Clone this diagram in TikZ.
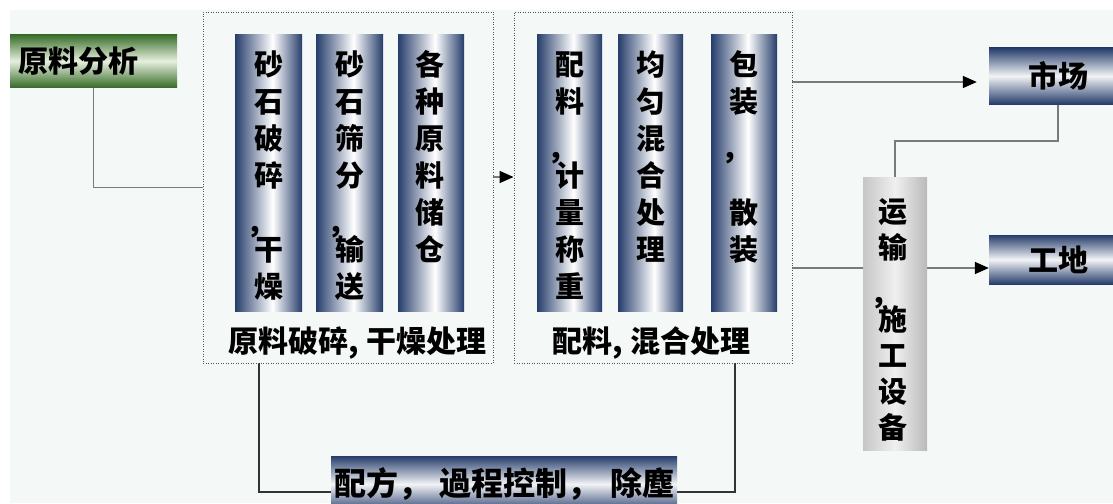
\documentclass[tikz,border=0pt]{standalone}
\usepackage{fontspec}
\newfontfamily\cjk{Noto Sans CJK SC}
\usetikzlibrary{arrows.meta,calc}
\definecolor{navy}{HTML}{263D6B}
\definecolor{dgreen}{HTML}{3B6E2C}
\definecolor{lgreen}{HTML}{E6F0DE}
\definecolor{bgc}{HTML}{F4F8F6}
\definecolor{linec}{HTML}{7A7A7A}
\definecolor{dlinec}{HTML}{333333}
\definecolor{dotc}{HTML}{555555}
\pgfdeclarehorizontalshading{colshade}{100bp}{color(0bp)=(navy); color(25bp)=(navy); color(53bp)=(white); color(75bp)=(navy); color(100bp)=(navy)}
\pgfdeclarelayer{bglayer}
\pgfdeclarelayer{linelayer}
\pgfsetlayers{bglayer,linelayer,main}
\newcommand\vcol[5]{%
  \foreach \ch [count=\i from 0] in {#5} {\node[chr] (#1-\i) at (#2,{#3+\i*#4}) {\ch};}}
\newcommand\vcm{\makebox[29pt][l]{\hspace{-8pt}\raisebox{-10pt}{，}}}
\begin{document}
\begin{tikzpicture}[x=1pt,y=-1pt,
  chr/.style={font=\cjk\bfseries\fontsize{29}{29}\selectfont, inner sep=0pt, text height=23pt, text depth=3pt},
  colbox/.style={shading=colshade, draw=none, inner sep=0pt},
  grp/.style={draw=dotc, line width=0.9pt, dash pattern=on 1pt off 1.5pt, inner sep=0pt},
  lbl/.style={font=\cjk\bfseries\fontsize{30}{30}\selectfont, inner sep=0pt},
  hbox/.style={top color=navy, bottom color=navy, middle color=navy!6, inner sep=0pt,
    font=\cjk\bfseries\fontsize{30}{30}\selectfont},
  gbox/.style={top color=dgreen, bottom color=dgreen, middle color=lgreen, inner ysep=0pt,
    font=\cjk\bfseries\fontsize{30}{30}\selectfont},
  graybox/.style={left color=gray!45, right color=gray!55, middle color=gray!12, inner sep=0pt},
  conn/.style={draw=linec, line width=1.6pt},
  dconn/.style={draw=dlinec, line width=1.6pt},
  arr/.style={conn, -{Triangle[length=14pt,width=12pt,color=black]}}
]
\useasboundingbox (0,0) rectangle (1113,503);
\clip (0,0) rectangle (1113,503);
\begin{pgfonlayer}{bglayer}
  \fill[white] (0,0) rectangle (1113,503);
  \fill[bgc] (10,10) rectangle (1113,503);
\end{pgfonlayer}

% left input
\node[gbox, minimum width=167pt, minimum height=52pt, text width=151pt, align=left, inner xsep=8pt] (raw) at (93.5,61) {原料分析};

% groups
\node[grp, minimum width=290pt, minimum height=351pt] (g1) at (348,187.5) {};
\node[grp, minimum width=278pt, minimum height=351pt] (g2) at (653,187.5) {};

% columns of group 1
\node[colbox, minimum width=67pt, minimum height=276pt] (c11) at (268.5,173) {};
\node[colbox, minimum width=67pt, minimum height=276pt] (c12) at (349.5,173) {};
\node[colbox, minimum width=66pt, minimum height=276pt] (c13) at (431,173) {};
% columns of group 2
\node[colbox, minimum width=65pt, minimum height=276pt] (c21) at (569.5,173) {};
\node[colbox, minimum width=65pt, minimum height=276pt] (c22) at (650.5,173) {};
\node[colbox, minimum width=66pt, minimum height=276pt] (c23) at (744,173) {};

\vcol{t11}{268.5}{65}{37}{砂,石,破,碎,\vcm,干,燥}
\vcol{t12}{349.5}{65}{37}{砂,石,筛,分,\vcm,输,送}
\vcol{t13}{430}{65}{37}{各,种,原,料,储,仓}
\vcol{t21}{569.5}{65}{37}{配,料,\vcm,计,量,称,重}
\vcol{t22}{650.5}{65}{37}{均,匀,混,合,处,理}
\vcol{t23}{744}{65}{37}{包,装,\vcm,{},散,装}

\node[lbl] (l1) at (357.5,343) {原料破碎, 干燥处理};
\node[lbl] (l2) at (651.5,343) {配料, 混合处理};

% right side
\node[hbox, minimum width=138pt, minimum height=56pt] (mkt) at (1058,76) {市场};
\node[hbox, minimum width=138pt, minimum height=49pt] (site) at (1058,259.5) {工地};
\node[graybox, minimum width=64pt, minimum height=273pt] (trans) at (895,313.5) {};
\vcol{tt}{893}{212}{36}{运,输,\vcm,施,工,设,备}

% bottom control box
\node[hbox, minimum width=346pt, minimum height=56pt, font=\cjk\bfseries\fontsize{32}{32}\selectfont] (ctrl) at (504,484) {配方，\hspace{10pt}過程控制，\hspace{10pt}除塵};

% connectors
\begin{pgfonlayer}{linelayer}
  \coordinate (ya) at (0,177);
  \coordinate (yb) at (0,82);
  \coordinate (yc) at (0,268);
  \coordinate (yd) at (0,492);
  \coordinate (xa) at (259,0);
  \coordinate (xb) at (735,0);
  \draw[conn] (raw.south) |- (g1.west);
  \draw[arr] (g1.east |- ya) -- (g2.west |- ya);
  \draw[arr, shorten >=12pt] (g2.east |- yb) -- (mkt.west |- yb);
  \draw[arr] (g2.east |- yc) -- (site.west |- yc);
  \draw[conn] (mkt.south) -- ++(0,37) -| (trans.north);
  \draw[dconn] (g1.south -| xa) |- (ctrl.west |- yd);
  \draw[dconn] (ctrl.east |- yd) -| (g2.south -| xb);
\end{pgfonlayer}
\end{tikzpicture}
\end{document}
